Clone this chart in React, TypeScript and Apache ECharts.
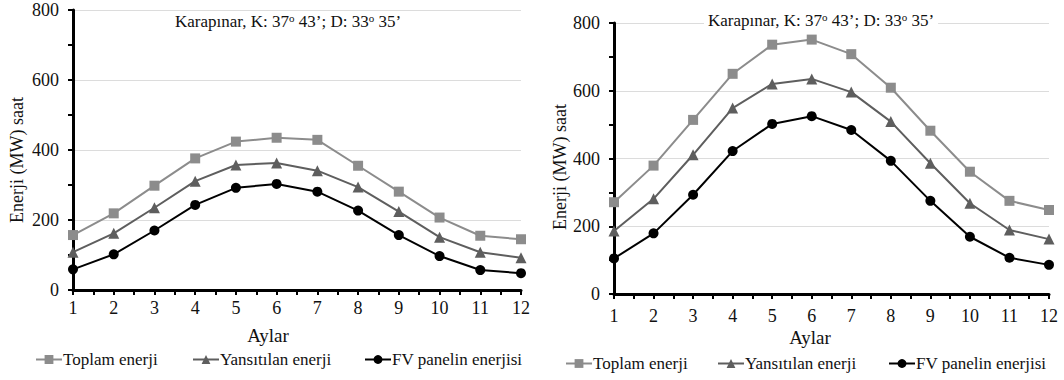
import React, { useEffect, useRef } from "react";
import * as echarts from "echarts";

const months = [1, 2, 3, 4, 5, 6, 7, 8, 9, 10, 11, 12];
const yTicks = [0, 200, 400, 600, 800];
const seriesNames = ["Toplam enerji", "Yansıtılan enerji", "FV panelin enerjisi"];
const titleText = "Karapınar, K: 37{sup|o} 43’; D: 33{sup|o} 35’";
const xName = "Aylar";
const yName = "Enerji (MW) saat";

const leftTotal = [157, 219, 298, 376, 424, 435, 429, 355, 281, 207, 155, 145];
const leftReflected = [108, 162, 235, 311, 357, 363, 341, 294, 224, 151, 108, 92];
const leftPanel = [59, 102, 170, 243, 292, 303, 281, 227, 157, 97, 57, 48];

const rightTotal = [271, 379, 514, 650, 736, 751, 708, 609, 482, 361, 275, 248];
const rightReflected = [186, 281, 411, 549, 620, 635, 596, 509, 386, 268, 189, 162];
const rightPanel = [105, 179, 293, 422, 502, 525, 484, 393, 275, 169, 107, 86];

const FONT = "Liberation Serif";
const colors = ["#8c8c8c", "#5e5e5e", "#000000"];
const symbols = ["rect", "triangle", "circle"];
const symbolSizes = [10, 11, 10];

export default function App() {
  const ref = useRef<HTMLDivElement>(null);
  useEffect(() => {
    if (!ref.current) return;
    const chart = echarts.init(ref.current, undefined, { renderer: "svg" });

    const grids = [
      { left: 73, top: 10, width: 448, height: 280 },
      { left: 614, top: 23, width: 435, height: 271 },
    ];
    const dataSets = [
      [leftTotal, leftReflected, leftPanel],
      [rightTotal, rightReflected, rightPanel],
    ];

    const xAxes = grids.map((_, i) => ({
      type: "value",
      gridIndex: i,
      min: 1,
      max: 12,
      interval: 1,
      axisLine: { show: true, lineStyle: { color: "#000", width: 3 } },
      axisTick: { show: true, length: 5, lineStyle: { color: "#000", width: 2 } },
      minorTick: { show: true, splitNumber: 2, length: 5, lineStyle: { color: "#000", width: 2 } },
      splitLine: { show: false },
      axisLabel: {
        margin: i === 0 ? 9 : 13,
        color: "#111",
        fontFamily: FONT,
        fontSize: 18,
        formatter: (v: number) => (months.includes(v) ? String(v) : ""),
      },
    }));

    const yAxes = grids.map((_, i) => ({
      type: "value",
      gridIndex: i,
      min: yTicks[0],
      max: yTicks[yTicks.length - 1],
      interval: 200,
      axisLine: { show: true, lineStyle: { color: "#000", width: 3 } },
      axisTick: { show: true, length: 5, lineStyle: { color: "#000", width: 2 } },
      minorTick: { show: true, splitNumber: 2, length: 5, lineStyle: { color: "#000", width: 2 } },
      splitLine: { show: true, lineStyle: { color: "#dcdcdc", width: 1 } },
      axisLabel: {
        margin: 14,
        color: "#111",
        fontFamily: FONT,
        fontSize: 18,
      },
    }));

    const series: any[] = [];
    dataSets.forEach((ds, gi) => {
      ds.forEach((arr, si) => {
        series.push({
          type: "line",
          name: seriesNames[si],
          xAxisIndex: gi,
          yAxisIndex: gi,
          data: arr.map((v, k) => [months[k], v]),
          symbol: symbols[si],
          symbolSize: symbolSizes[si],
          showAllSymbol: true,
          itemStyle: { color: colors[si] },
          lineStyle: { color: colors[si], width: 2 },
          z: 10 - si,
        });
      });
    });

    const legendPos = [
      [[35, 351], [192, 351], [364, 351]],
      [[565, 355], [717, 355], [888, 355]],
    ];
    const legends: any[] = [];
    legendPos.forEach((row) => {
      row.forEach((p, si) => {
        legends.push({
          data: [seriesNames[si]],
          left: p[0],
          top: p[1],
          itemWidth: 26,
          itemHeight: 11,
          itemGap: 0,
          padding: 0,
          selectedMode: false,
          textStyle: { fontFamily: FONT, fontSize: 17, color: "#111", padding: [0, 0, 0, -4] },
        });
      });
    });

    const titleStyle = {
      fontFamily: FONT,
      fontSize: 17,
      fontWeight: "normal",
      color: "#111",
      rich: {
        sup: { fontFamily: FONT, fontSize: 11, verticalAlign: "top", padding: [0, 0, 8, 0], color: "#111" },
      },
    };

    chart.setOption({
      animation: false,
      backgroundColor: "#ffffff",
      title: [
        { text: titleText, left: 171, top: 12, padding: [0, 4], backgroundColor: "#fff", textStyle: titleStyle },
        { text: titleText, left: 704, top: 11, padding: [0, 4], backgroundColor: "#fff", textStyle: titleStyle },
      ],
      grid: grids,
      xAxis: xAxes,
      yAxis: yAxes,
      legend: legends,
      series,
      graphic: [
        {
          type: "text", x: 268, y: 335,
          style: { text: xName, font: `19px ${FONT}`, fill: "#111", textAlign: "center", textVerticalAlign: "middle" },
        },
        {
          type: "text", x: 810, y: 337,
          style: { text: xName, font: `19px ${FONT}`, fill: "#111", textAlign: "center", textVerticalAlign: "middle" },
        },
        {
          type: "text", x: 17, y: 160, rotation: Math.PI / 2,
          style: { text: yName, font: `18px ${FONT}`, fill: "#111", textAlign: "center", textVerticalAlign: "middle" },
        },
        {
          type: "text", x: 560, y: 167, rotation: Math.PI / 2,
          style: { text: yName, font: `18px ${FONT}`, fill: "#111", textAlign: "center", textVerticalAlign: "middle" },
        },
      ],
    });
    return () => chart.dispose();
  }, []);
  return (
    <div
      ref={ref}
      style={{ position: "absolute", left: 0, top: 0, width: 1064, height: 380, background: "#fff" }}
    />
  );
}
